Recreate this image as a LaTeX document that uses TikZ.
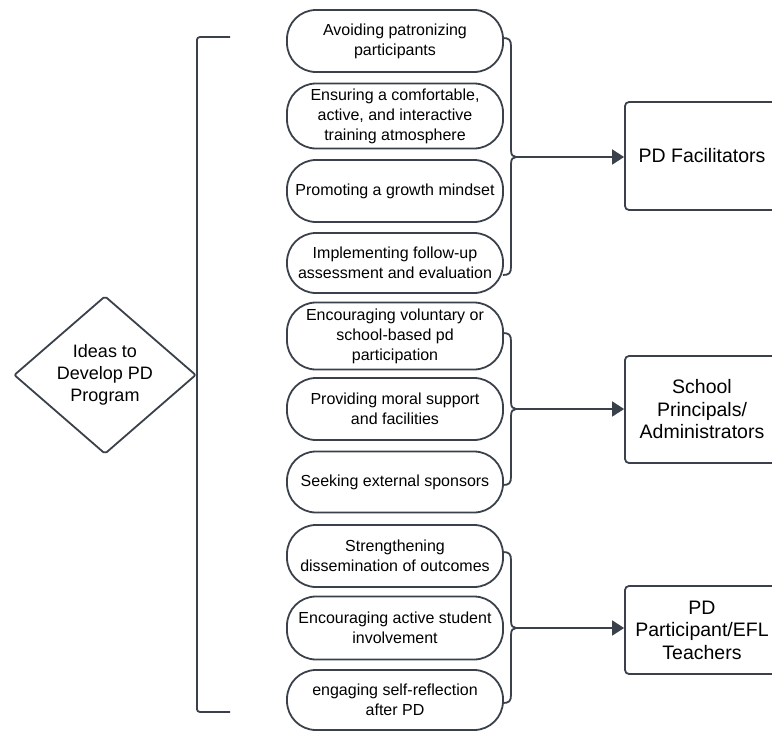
\documentclass[tikz,border=0pt]{standalone}
\usepackage{fontspec}
\setmainfont{Liberation Sans}
\usetikzlibrary{arrows.meta,shapes.geometric}
\definecolor{lineC}{RGB}{58,65,74}
\newcommand\pillfont{\fontsize{16}{20}\selectfont}
\newcommand\boxfont{\fontsize{19.5}{22.5}\selectfont}
\newcommand\diafont{\fontsize{18}{22}\selectfont}
\tikzset{
  ln/.style={draw=lineC, line width=1.8pt},
  pill/.style={ln, rounded corners=29pt, minimum width=216pt, align=center, font=\pillfont, inner sep=0pt},
  target/.style={ln, rounded corners=4pt, minimum width=154pt, align=center, font=\boxfont, inner sep=0pt},
  arr/.style={ln, -{Triangle[length=12pt,width=15pt]}},
}
\begin{document}
\begin{tikzpicture}[x=1pt,y=-1pt]
\useasboundingbox (0,0) rectangle (772,731);
% main diamond
\node[diamond, ln, rounded corners=2pt, minimum width=182pt, minimum height=158pt, inner sep=0pt, align=center, font=\diafont] (idea) at (105,375) {Ideas to\\Develop PD\\Program};
% left bracket
\coordinate (bt) at (230,37);
\coordinate (bb) at (230,712);
\draw[ln, rounded corners=3pt] (bt) -| (idea.east) |- (bb);
% pills
\node[pill, minimum height=62pt] (p1) at (395,41) {Avoiding patronizing\\participants};
\node[pill, minimum height=65pt] (p2) at (395,116) {Ensuring a comfortable,\\active, and interactive\\training atmosphere};
\node[pill, minimum height=62pt] (p3) at (395,191) {Promoting a growth mindset};
\node[pill, minimum height=60pt] (p4) at (395,263) {Implementing follow-up\\assessment and evaluation};
\node[pill, minimum height=67pt] (p5) at (395,336) {Encouraging voluntary or\\school-based pd\\participation};
\node[pill, minimum height=62pt] (p6) at (395,409) {Providing moral support\\and facilities};
\node[pill, minimum height=61pt] (p7) at (395,482) {Seeking external sponsors};
\node[pill, minimum height=62pt] (p8) at (395,556) {Strengthening\\dissemination of outcomes};
\node[pill, minimum height=63pt] (p9) at (395,628) {Encouraging active student\\involvement};
\node[pill, minimum height=60pt] (p10) at (395,700) {engaging self-reflection\\after PD};
% target boxes
\node[target, minimum height=108pt] (t1) at (702,156) {PD Facilitators};
\node[target, minimum height=107pt] (t2) at (702,409.5) {School\\Principals/\\Administrators};
\node[target, minimum height=88pt] (t3) at (702,630) {PD\\Participant/EFL\\Teachers};
% braces
\coordinate (k1) at (516,157);
\coordinate (k2) at (516,409);
\coordinate (k3) at (516,628);
\draw[ln] (503,38) .. controls (509,38) and (511,40) .. (511,46) -- (511,150) .. controls (511,155) and (513,157) .. (k1)
  .. controls (513,157) and (511,159) .. (511,164) -- (511,267) .. controls (511,273) and (509,275) .. (503,275);
\draw[ln] (503,333) .. controls (509,333) and (511,335) .. (511,341) -- (511,402) .. controls (511,407) and (513,409) .. (k2)
  .. controls (513,409) and (511,411) .. (511,416) -- (511,477) .. controls (511,483) and (509,485) .. (503,485);
\draw[ln] (503,552) .. controls (509,552) and (511,554) .. (511,560) -- (511,621) .. controls (511,626) and (513,628) .. (k3)
  .. controls (513,628) and (511,630) .. (511,635) -- (511,695) .. controls (511,701) and (509,703) .. (503,703);
% arrows
\draw[arr] (k1) -- (k1 -| t1.west);
\draw[arr] (k2) -- (k2 -| t2.west);
\draw[arr] (k3) -- (k3 -| t3.west);
\end{tikzpicture}
\end{document}
